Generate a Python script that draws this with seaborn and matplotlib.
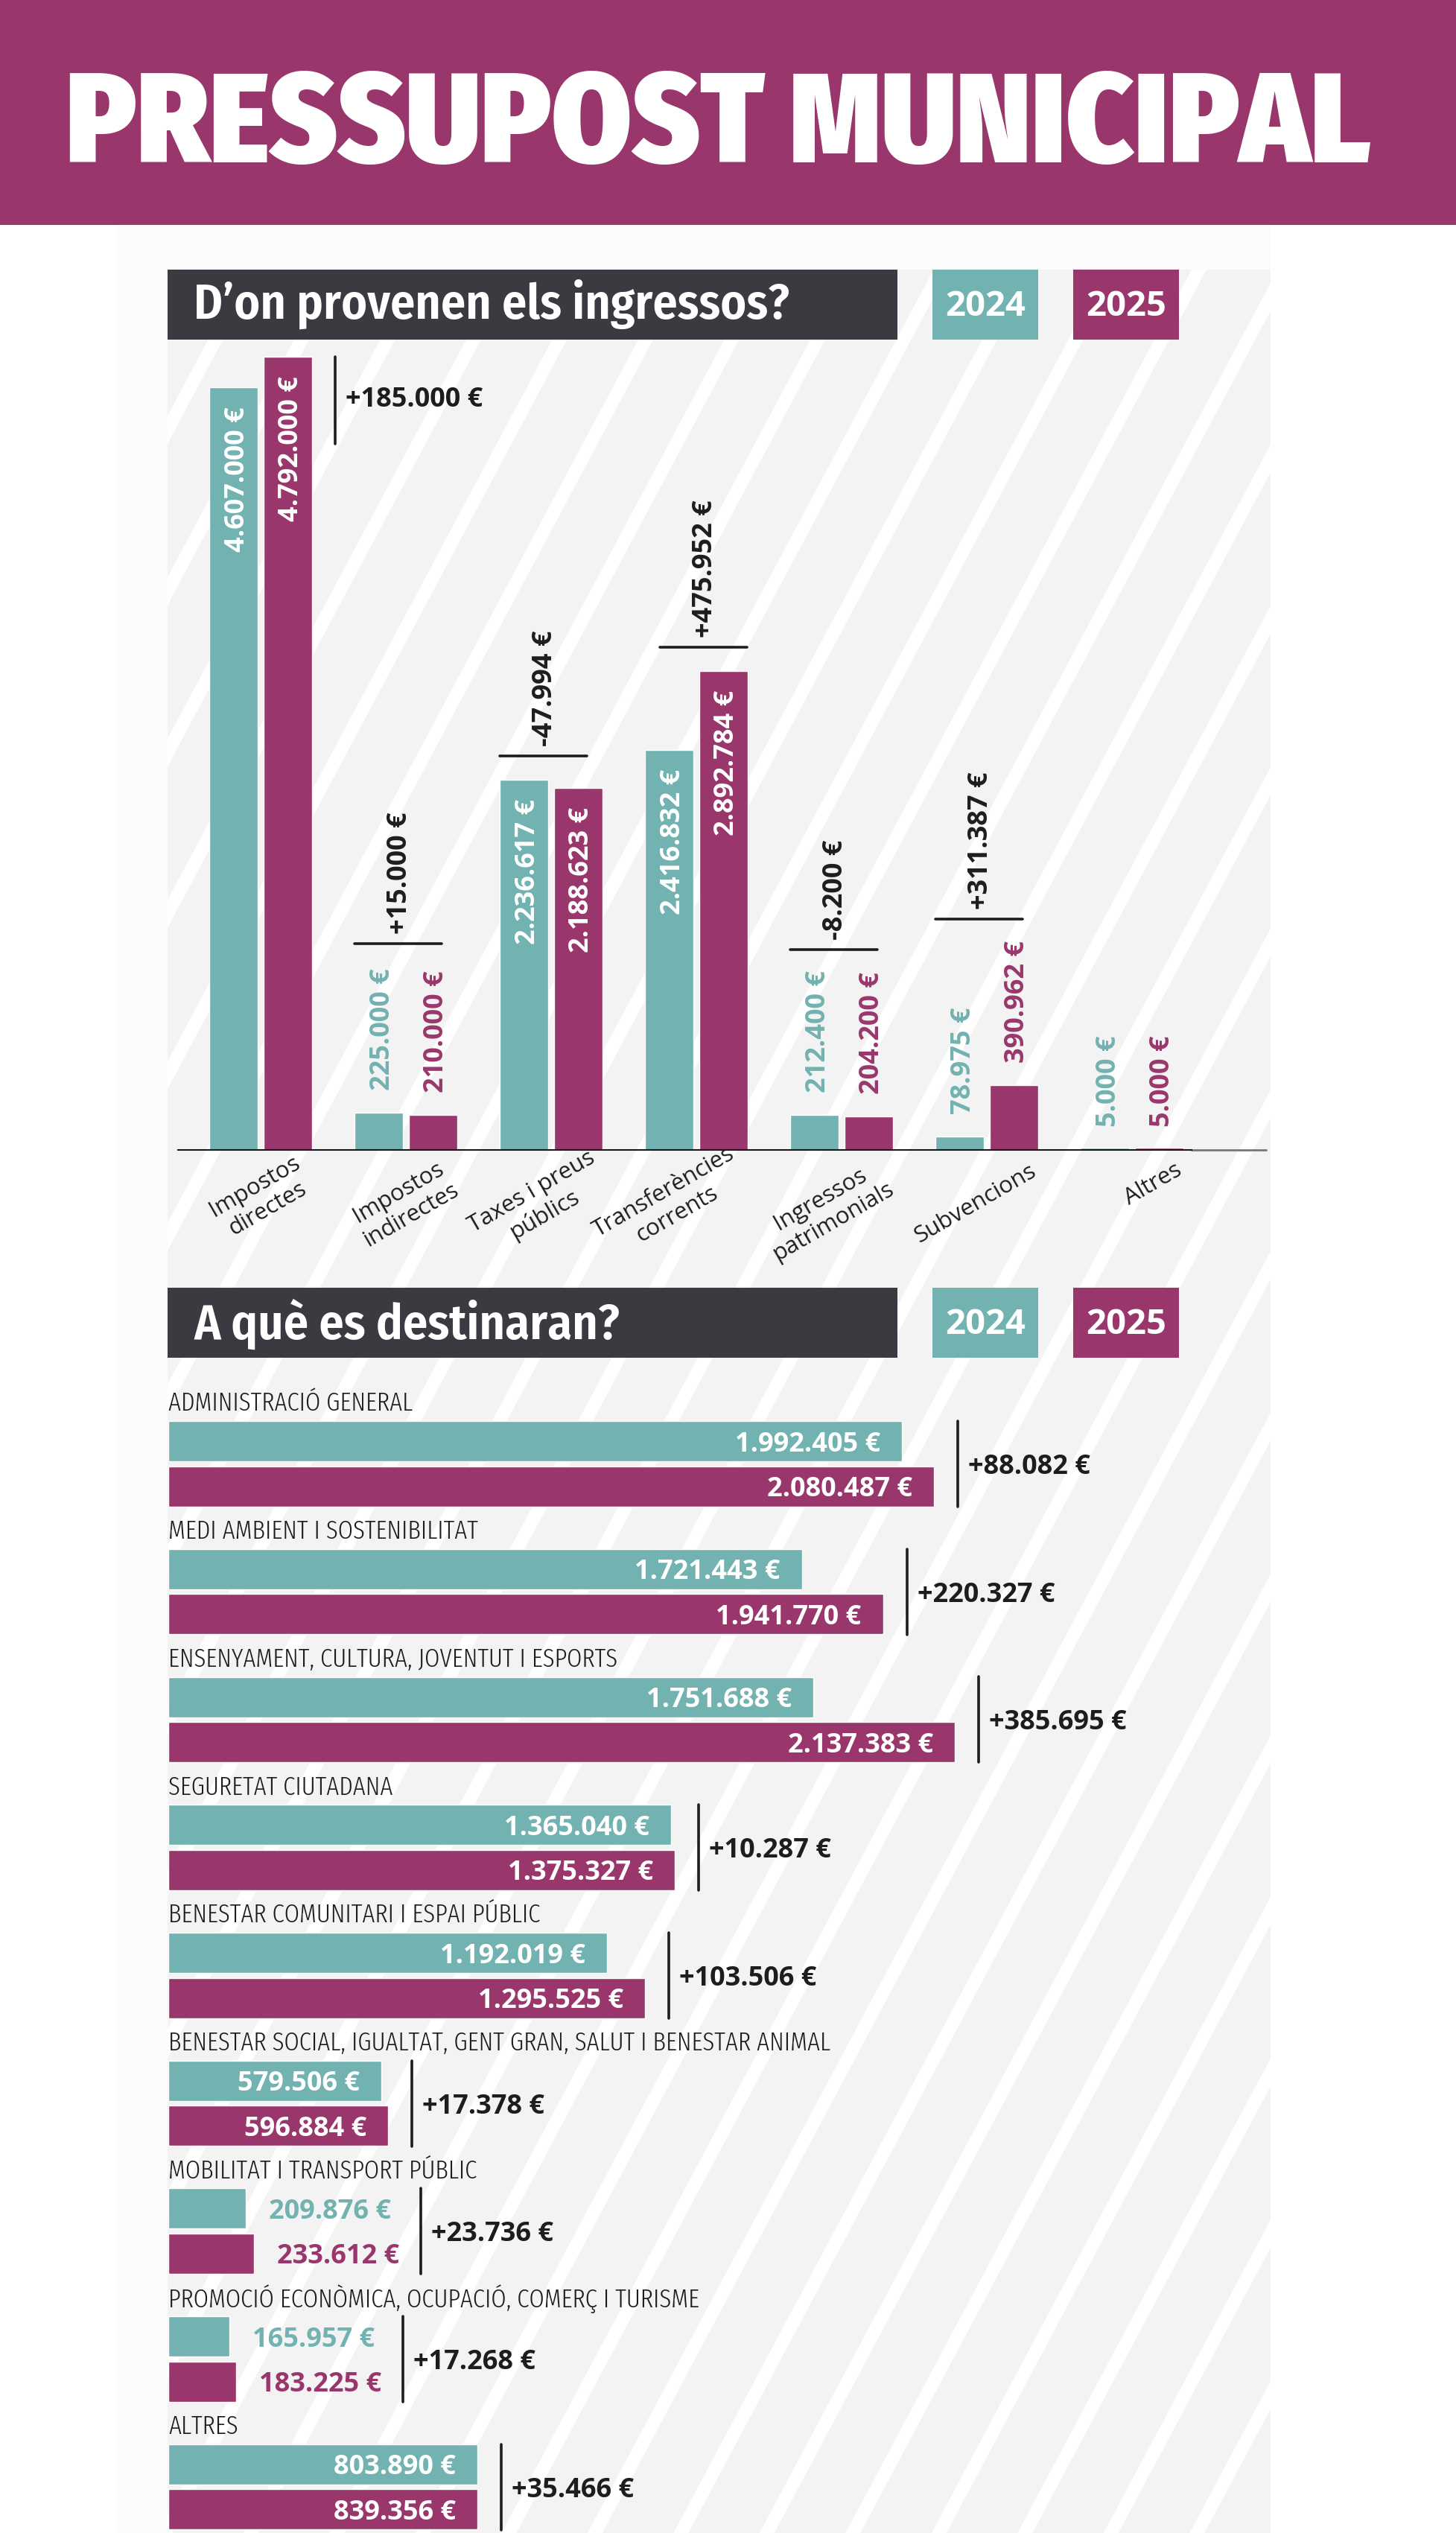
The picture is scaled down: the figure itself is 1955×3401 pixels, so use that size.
import numpy as np
import pandas as pd
import matplotlib
matplotlib.use("Agg")
import matplotlib.pyplot as plt
from matplotlib import font_manager as fm
from matplotlib.patches import Rectangle, Polygon
import seaborn as sns

W, H = 1956, 3401
TEAL, PURPLE, DARK, INK, BG = "#72b2b0", "#99376c", "#3a3b40", "#1d1d1b", "#f3f3f3"

# ---- data ----
years = ["2024", "2025"]
income_cats = ["Impostos\ndirectes", "Impostos\nindirectes", "Taxes i preus\npúblics",
               "Transferències\ncorrents", "Ingressos\npatrimonials", "Subvencions", "Altres"]
income_2024 = [4607000, 225000, 2236617, 2416832, 212400, 78975, 5000]
income_2025 = [4792000, 210000, 2188623, 2892784, 204200, 390962, 5000]
income_diff = [185000, 15000, -47994, 475952, -8200, 311387, None]
# the picture draws the two "Altres" slivers a little taller than their value
income_2024_drawn = [4607000, 225000, 2236617, 2416832, 212400, 78975, 13000]
income_2025_drawn = [4792000, 210000, 2188623, 2892784, 204200, 390962, 13000]

spend_cats = ["ADMINISTRACIÓ GENERAL", "MEDI AMBIENT I SOSTENIBILITAT",
              "ENSENYAMENT, CULTURA, JOVENTUT I ESPORTS", "SEGURETAT CIUTADANA",
              "BENESTAR COMUNITARI I ESPAI PÚBLIC",
              "BENESTAR SOCIAL, IGUALTAT, GENT GRAN, SALUT I BENESTAR ANIMAL",
              "MOBILITAT I TRANSPORT PÚBLIC", "PROMOCIÓ ECONÒMICA, OCUPACIÓ, COMERÇ I TURISME", "ALTRES"]
spend_2024 = [1992405, 1721443, 1751688, 1365040, 1192019, 579506, 209876, 165957, 803890]
spend_2025 = [2080487, 1941770, 2137383, 1375327, 1295525, 596884, 233612, 183225, 839356]
spend_diff = [88082, 220327, 385695, 10287, 103506, 17378, 23736, 17268, 35466]
# the picture draws the last 2024 bar as long as the 2025 one
spend_2024_drawn = [1992405, 1721443, 1751688, 1365040, 1192019, 579506, 209876, 165957, 839356]

# ---- theme ----
sns.set_theme(style="white")
available = {f.name for f in fm.fontManager.ttflist}


def pick(*names):
    return [n for n in names if n in available] + ["DejaVu Sans"]


BODY = pick("Open Sans")
HEAD = pick("Fira Sans Condensed", "Lato", "Open Sans")
TITLE = pick("Fira Sans Condensed", "Lato", "Open Sans")
NARROW = pick("Fira Sans Extra Condensed", "Barlow Condensed", "Liberation Sans")
plt.rcParams["font.family"] = BODY

fig = plt.figure(figsize=(W / 100, H / 100), dpi=100, facecolor="white")
VAL = 26
LW = 2.6


def add_px_axes(l, t, r, b, z):
    ax = fig.add_axes([l / W, 1 - b / H, (r - l) / W, (b - t) / H], zorder=z)
    ax.patch.set_visible(False)
    return ax


def euro(v):
    return f"{v:,}".replace(",", ".") + " €"


def signed(v):
    return f"{v:+,}".replace(",", ".") + " €"


def fit(txt, width_px):
    r = fig.canvas.get_renderer()
    w = txt.get_window_extent(r).width
    txt.set_fontsize(txt.get_fontsize() * width_px / w)


# ---- background page ----
bg = add_px_axes(0, 0, W, H, 0)
bg.set_xlim(0, W)
bg.set_ylim(H, 0)
bg.axis("off")
bg.add_patch(Rectangle((0, 0), W, 302, color=PURPLE, lw=0))
bg.add_patch(Rectangle((156, 302), 1550, H - 302, color="#fcfcfc", lw=0))
panel = Rectangle((225, 362), 1481, H - 362, color=BG, lw=0)
bg.add_patch(panel)
SLOPE, STEP, SW = 0.533, 115.5, 20
for x0 in np.arange(280 - STEP * 3, 280 + STEP * 27, STEP):
    xt = x0 - SLOPE * (362 - 455)
    xb = x0 - SLOPE * (H - 455)
    p = Polygon([(xt, 362), (xt + SW, 362), (xb + SW, H), (xb, H)], color="white", lw=0)
    bg.add_patch(p)
    p.set_clip_path(panel)

title = bg.text(964, 172, "PRESSUPOST MUNICIPAL", color="white", ha="center", va="center",
                family=TITLE, weight=900, fontsize=100)
fit(title, 1752)

for top, label, wpx, dy in [(362, "D’on provenen els ingressos?", 800, 46), (1729, "A què es destinaran?", 573, 49)]:
    bg.add_patch(Rectangle((225, top), 980, 94, color=DARK, lw=0))
    t = bg.text(260, top + dy, label, color="white", ha="left", va="center", family=HEAD, weight=600, fontsize=40)
    fit(t, wpx)
    for x, c, y in [(1252, TEAL, years[0]), (1441, PURPLE, years[1])]:
        bg.add_patch(Rectangle((x, top), 142, 94, color=c, lw=0))
        bg.text(x + 71, top + 49, y, color="white", ha="center", va="center", family=BODY, weight="bold", fontsize=34)

# ---- income chart ----
GX0, GSTEP, BASE = 350, 195, 1544
K = 1065 / 4792000  # px per euro
ax1 = add_px_axes(239, 362, 1706, BASE, 2)
df1 = pd.DataFrame({"cat": income_cats * 2,
                    "value": income_2024_drawn + income_2025_drawn,
                    "year": [years[0]] * 7 + [years[1]] * 7})
sns.barplot(data=df1, x="cat", y="value", hue="year", hue_order=years, palette=[TEAL, PURPLE],
            width=0.7436, gap=0.103, saturation=1, legend=False, ax=ax1)
ax1.set_xlim((239 - GX0) / GSTEP, (1706 - GX0) / GSTEP)
ax1.set_ylim(0, (BASE - 362) / K)
ax1.set(xlabel="", ylabel="", xticks=[], yticks=[])
for s in ["top", "left", "right"]:
    ax1.spines[s].set_visible(False)
ax1.spines["bottom"].set_color("#1a1a1a")
ax1.spines["bottom"].set_linewidth(1.5)
ax1.spines["bottom"].set_bounds((239 - GX0) / GSTEP, (1600 - GX0) / GSTEP)
bg.plot([1600, 1700], [1543.5, 1543.5], color="#777777", lw=2)

for cont, vals, col in zip(ax1.containers, [income_2024, income_2025], [TEAL, PURPLE]):
    for bar, v in zip(cont, vals):
        xc = bar.get_x() + bar.get_width() / 2
        if v * K > 300:
            ax1.annotate(euro(v), (xc, v), xytext=(5, -26), textcoords="offset pixels", rotation=90,
                         ha="center", va="top", color="white", weight="bold", fontsize=VAL)
        else:
            ax1.annotate(euro(v), (xc, v), xytext=(5, 30), textcoords="offset pixels", rotation=90,
                         ha="center", va="bottom", color=col, weight="bold", fontsize=VAL)

bracket_rise = [None, 227, 32, 32, 222, 223, None]  # px above the taller bar
bracket_shift = [0, 0, 0, 20, 0, 0, 0]  # px to the right of the 2024 bar's edge
for i, (d, rise, sh) in enumerate(zip(income_diff, bracket_rise, bracket_shift)):
    top_v = max(income_2024[i], income_2025[i])
    if d is None:
        continue
    if rise is None:
        lx = i + 100 / GSTEP
        ax1.plot([lx, lx], [top_v, top_v - 117 / K], color=INK, lw=LW, clip_on=False)
        ax1.annotate(signed(d), (lx, top_v - 58 / K), xytext=(14, 0), textcoords="offset pixels",
                     ha="left", va="center", color=INK, weight="bold", fontsize=VAL)
    else:
        yv = top_v + rise / K
        x1, x2 = i + (sh - 69) / GSTEP, i + (sh + 48) / GSTEP
        ax1.plot([x1, x2], [yv, yv], color=INK, lw=LW, clip_on=False)
        ax1.annotate(signed(d), ((x1 + x2) / 2, yv), xytext=(3, 13), textcoords="offset pixels", rotation=90,
                     ha="center", va="bottom", color=INK, weight="bold", fontsize=VAL)

label_centres = [(351, 1608), (544, 1616), (723, 1616), (900, 1616), (1110, 1625), (1310, 1616), (1548, 1590)]
for cat, (cx, cy) in zip(income_cats, label_centres):
    bg.text(cx, cy, cat, rotation=30, rotation_mode="anchor", ha="center", va="center",
            color=INK, fontsize=22.5, weight=500, linespacing=1.2, multialignment="center")

# ---- spending chart ----
RY0, RSTEP, BX0 = 1965.5, 171.7, 226
KX = 4.942e-4
ax2 = add_px_axes(BX0, 1850, 1706, H, 2)
df2 = pd.DataFrame({"cat": spend_cats * 2,
                    "value": spend_2024_drawn + spend_2025,
                    "year": [years[0]] * 9 + [years[1]] * 9})
sns.barplot(data=df2, y="cat", x="value", hue="year", hue_order=years, palette=[TEAL, PURPLE],
            width=0.7047, gap=0.107, saturation=1, legend=False, orient="y", ax=ax2)
ax2.set_xlim(0, (1706 - BX0) / KX)
ax2.set_ylim((H - RY0) / RSTEP, (1850 - RY0) / RSTEP)
ax2.set(xlabel="", ylabel="", xticks=[], yticks=[])
sns.despine(ax=ax2, left=True, bottom=True)

for cont, vals, col in zip(ax2.containers, [spend_2024, spend_2025], [TEAL, PURPLE]):
    for bar, v in zip(cont, vals):
        yc = bar.get_y() + bar.get_height() / 2
        w = bar.get_width()
        if w * KX > 200:
            ax2.annotate(euro(v), (w, yc), xytext=(-29, 0), textcoords="offset pixels",
                         ha="right", va="center_baseline", color="white", weight="bold", fontsize=VAL)
        else:
            ax2.annotate(euro(v), (w, yc), xytext=(31, 0), textcoords="offset pixels",
                         ha="left", va="center_baseline", color=col, weight="bold", fontsize=VAL)

longest = max(spend_cats, key=len)
probe = ax2.text(0, 0, longest, family=NARROW, weight=300, fontsize=24)
fit(probe, 887)
cat_size = probe.get_fontsize()
probe.remove()

for i, (cat, d) in enumerate(zip(spend_cats, spend_diff)):
    end = max(spend_2024_drawn[i], spend_2025[i])
    pad = 224 if end * KX < 200 else 32
    lx = end + pad / KX
    ax2.plot([lx, lx], [i - 57.5 / RSTEP, i + 57.5 / RSTEP], color=INK, lw=LW, clip_on=False)
    ax2.annotate(signed(d), (lx, i), xytext=(14, 0), textcoords="offset pixels",
                 ha="left", va="center_baseline", color=INK, weight="bold", fontsize=VAL)
    ax2.annotate(cat, (0, i - 81 / RSTEP), ha="left", va="center", color=INK,
                 family=NARROW, weight=300, fontsize=cat_size, annotation_clip=False)

fig.savefig("out.png", dpi=100, facecolor="white")
